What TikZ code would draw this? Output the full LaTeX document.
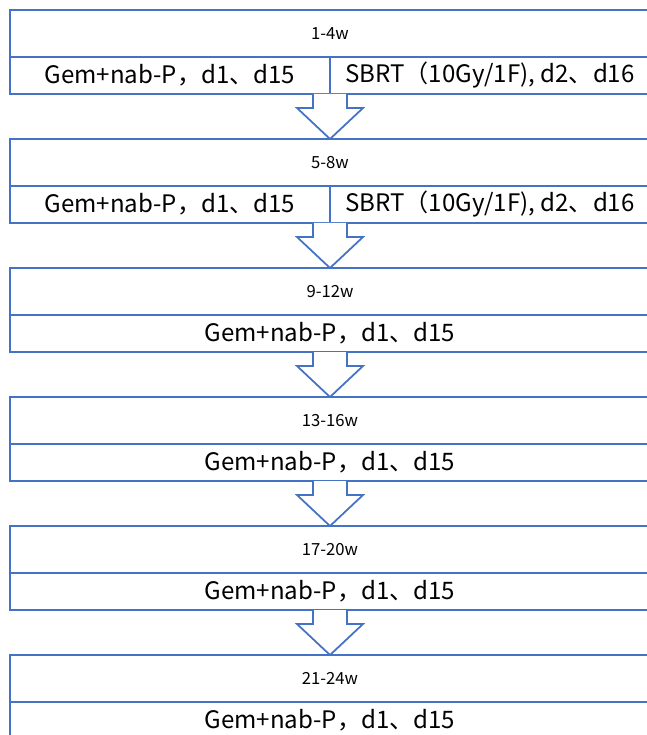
\documentclass[tikz,border=0pt]{standalone}
\usepackage{fontspec}
\newfontfamily\cjk{Noto Sans CJK SC}
\usetikzlibrary{positioning, calc}
\definecolor{boxblue}{HTML}{4472C4}

\tikzset{
	head/.style={draw=boxblue, line width=1.1pt, minimum width=12.8cm, minimum height=0.94cm, inner sep=0pt, outer sep=0pt, font=\cjk\fontsize{9.5pt}{11pt}\selectfont},
	body/.style={draw=boxblue, line width=1.1pt, minimum width=12.8cm, minimum height=0.74cm, inner sep=0pt, outer sep=0pt, font=\cjk\fontsize{13.7pt}{15pt}\selectfont},
	cell/.style={body, minimum width=6.4cm},
	bigarrow/.style={draw=boxblue, line width=1pt, fill=white, line join=miter}
}

\begin{document}
\begin{tikzpicture}[node distance=0cm]
			\useasboundingbox (0,0) rectangle (12.94,-14.7);
			\clip (0,0) rectangle (12.94,-14.7);
			% weeks 1-8: chemo + SBRT
			\node[head, anchor=north west] (h1) at (0.2,-0.2) {1-4w};
			\node[cell, below right=0cm of h1.south west] (l1) {Gem+nab-P，d1、d15};
			\node[cell, below left=0cm of h1.south east] (r1) {SBRT（10Gy/1F), d2、d16};
			\node[head, below=0.9cm of l1.south east] (h2) {5-8w};
			\node[cell, below right=0cm of h2.south west] (l2) {Gem+nab-P，d1、d15};
			\node[cell, below left=0cm of h2.south east] (r2) {SBRT（10Gy/1F), d2、d16};
			% weeks 9-24: chemo only
			\node[head, below=0.9cm of l2.south east] (h3) {9-12w};
			\node[body, below=of h3] (b3) {Gem+nab-P，d1、d15};
			\node[head, below=0.9cm of b3] (h4) {13-16w};
			\node[body, below=of h4] (b4) {Gem+nab-P，d1、d15};
			\node[head, below=0.9cm of b4] (h5) {17-20w};
			\node[body, below=of h5] (b5) {Gem+nab-P，d1、d15};
			\node[head, below=0.9cm of b5] (h6) {21-24w};
			\node[body, below=of h6] (b6) {Gem+nab-P，d1、d15};
			\foreach \a/\b in {l1.south east/h2.north, l2.south east/h3.north, b3.south/h4.north, b4.south/h5.north, b5.south/h6.north}
				\draw[bigarrow] ($(\a)+(-0.34,0)$) -- ++(0,-0.28) -- ++(-0.32,0) -- (\b) -- ++(0.66,0.62) -- ++(-0.32,0) -- ++(0,0.28);
		\end{tikzpicture}
\end{document}
